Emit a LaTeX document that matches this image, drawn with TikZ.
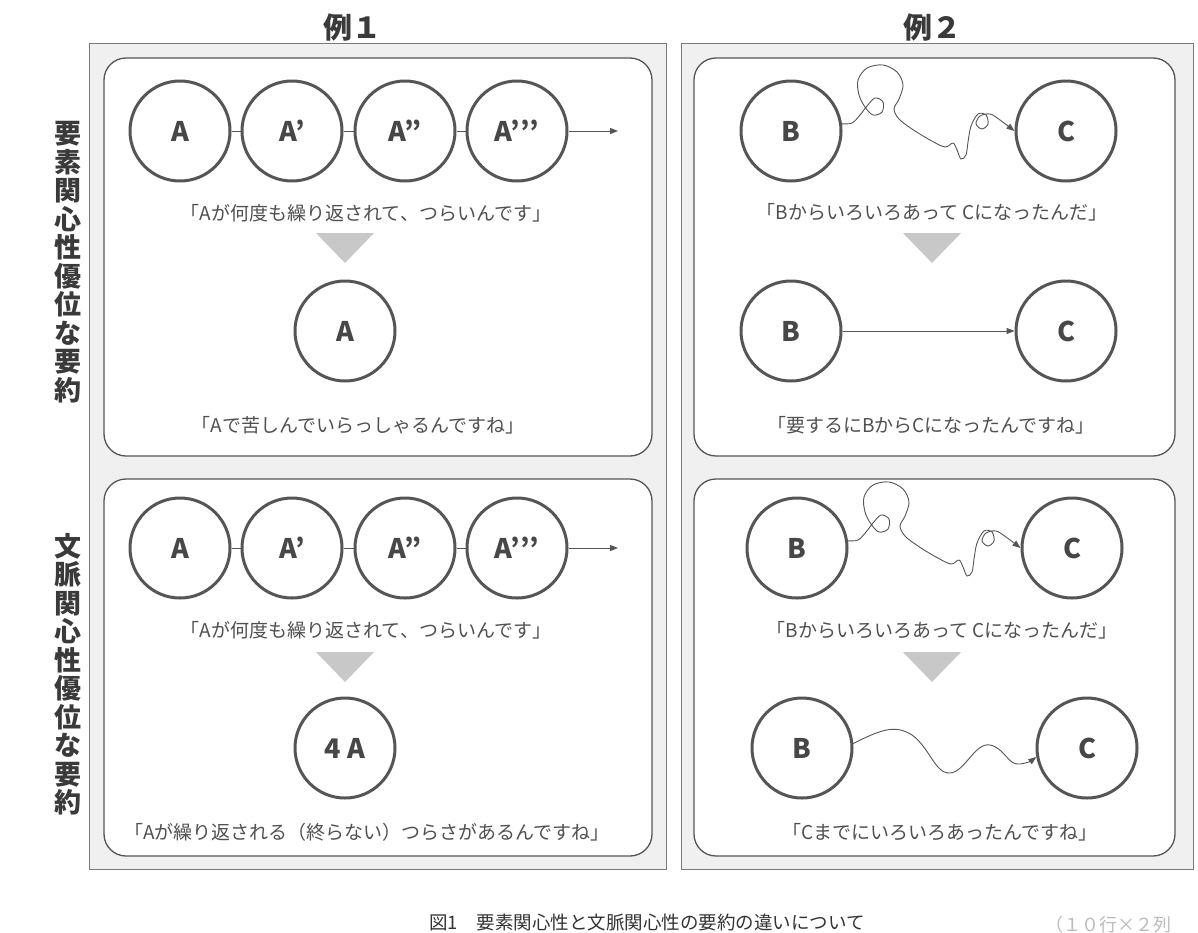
\documentclass[tikz,border=0pt]{standalone}
\usepackage{fontspec}
\setmainfont{Noto Sans CJK JP}
\usetikzlibrary{arrows.meta}
\definecolor{frameg}{HTML}{F0F0F0}
\definecolor{frameline}{HTML}{7A7A7A}
\definecolor{panelline}{HTML}{555555}
\definecolor{circline}{HTML}{555555}
\definecolor{labg}{HTML}{3A3A3A}
\definecolor{circlab}{HTML}{474747}
\definecolor{txtg}{HTML}{505050}
\definecolor{trig}{HTML}{C8C8C8}
\definecolor{linkg}{HTML}{555555}
\definecolor{faintg}{HTML}{BBBBBB}
\begin{document}
\begin{tikzpicture}[x=1pt,y=-1pt,
  outerbox/.style={draw=frameline, line width=0.9pt, fill=frameg},
  panel/.style={draw=panelline, line width=1.3pt, fill=white, rounded corners=22pt},
  circ/.style={circle, draw=circline, line width=3pt, fill=white, minimum size=100pt, inner sep=0pt,
    font=\fontsize{27}{27}\selectfont\bfseries, text=circlab},
  say/.style={font=\fontsize{19}{19}\selectfont, text=txtg, inner sep=0pt},
  sidelab/.style={align=center, font=\fontsize{27}{28.5}\selectfont\bfseries, text=labg, inner sep=0pt},
  titlelab/.style={font=\fontsize{29}{29}\selectfont\bfseries, text=labg, inner sep=0pt},
  tri/.style={fill=trig},
  link/.style={draw=linkg, line width=1pt},
  arr/.style={link, -{Triangle[length=8pt,width=6pt]}},
  wig/.style={draw=linkg, line width=0.9pt, -{Triangle[length=8pt,width=6pt]}}
]
\useasboundingbox (0,0) rectangle (1198,932);
\fill[white] (0,0) rectangle (1198,932);

% titles
\node[titlelab] (title1) at (352,27) {例１};
\node[titlelab] (title2) at (932,27) {例２};

% side labels
\node[sidelab] (side1) at (68,262) {要\\素\\関\\心\\性\\優\\位\\な\\要\\約};
\node[sidelab] (side2) at (68,674) {文\\脈\\関\\心\\性\\優\\位\\な\\要\\約};

% frames
\draw[outerbox] (89,43) rectangle (666,869);
\draw[outerbox] (681,43) rectangle (1193,869);
\draw[panel] (104,58) rectangle (652,456);
\draw[panel] (104,479) rectangle (652,856);
\draw[panel] (694,58) rectangle (1175,456);
\draw[panel] (694,479) rectangle (1175,856);

% ===== Example 1, top =====
\node[circ] (a1) at (180,131) {A};
\node[circ] (a2) at (292,131) {A’};
\node[circ] (a3) at (405,131) {A”};
\node[circ] (a4) at (517,131) {A’’’};
\coordinate (a4end) at (618,131);
\draw[link] (a1) -- (a2);
\draw[link] (a2) -- (a3);
\draw[link] (a3) -- (a4);
\draw[arr] (a4) -- (a4end);
\node[say] (s1) at (366,213) {「Aが何度も繰り返されて、つらいんです」};
\coordinate (t1) at (345,233);
\fill[tri] (t1) ++(-29,0) -- ++(58,0) -- ++(-29,30) -- cycle;
\node[circ] (a5) at (345,331) {A};
\node[say] (s2) at (358,425) {「Aで苦しんでいらっしゃるんですね」};

% ===== Example 1, bottom =====
\node[circ] (b1) at (180,548) {A};
\node[circ] (b2) at (292,548) {A’};
\node[circ] (b3) at (405,548) {A”};
\node[circ] (b4) at (517,548) {A’’’};
\coordinate (b4end) at (618,548);
\draw[link] (b1) -- (b2);
\draw[link] (b2) -- (b3);
\draw[link] (b3) -- (b4);
\draw[arr] (b4) -- (b4end);
\node[say] (s3) at (366,630) {「Aが何度も繰り返されて、つらいんです」};
\coordinate (t2) at (345,652);
\fill[tri] (t2) ++(-29,0) -- ++(58,0) -- ++(-29,30) -- cycle;
\node[circ] (b5) at (345,748) {4 A};
\node[say] (s4) at (367,832) {「Aが繰り返される（終らない）つらさがあるんですね」};

% ===== Example 2, top =====
\node[circ] (B1) at (791,131) {B};
\node[circ] (C1) at (1066,131) {C};
\begin{scope}[shift={(B1.center)}]
\draw[wig] plot[smooth, tension=0.55] coordinates {(B1.8) (61,-8) (69,-16) (76,-25) (84,-33) (92,-29) (91,-19) (82,-16) (74,-24) (68,-36) (67,-51) (76,-63) (92,-66) (106,-59) (112,-46) (108,-32) (103,-22) (108,-12) (121,-2) (139,9) (154,16) (162,12) (166,19) (170,28) (175,24) (177,11) (180,-5) (187,-17) (195,-16) (197,-7) (191,-2) (185,-7) (189,-15) (199,-17) (209,-11) (C1.180)};
\end{scope}
\node[say] (s5) at (932,212) {「Bからいろいろあって Cになったんだ」};
\coordinate (t3) at (932,233);
\fill[tri] (t3) ++(-29,0) -- ++(58,0) -- ++(-29,30) -- cycle;
\node[circ] (B2) at (791,331) {B};
\node[circ] (C2) at (1066,331) {C};
\draw[arr] (B2) -- (C2);
\node[say] (s6) at (931,425) {「要するにBからCになったんですね」};

% ===== Example 2, bottom =====
\node[circ] (B3) at (797,548) {B};
\node[circ] (C3) at (1072,548) {C};
\begin{scope}[shift={(B3.center)}]
\draw[wig] plot[smooth, tension=0.55] coordinates {(B3.8) (61,-8) (69,-16) (76,-25) (84,-33) (92,-29) (91,-19) (82,-16) (74,-24) (68,-36) (67,-51) (76,-63) (92,-66) (106,-59) (112,-46) (108,-32) (103,-22) (108,-12) (121,-2) (139,9) (154,16) (162,12) (166,19) (170,28) (175,24) (177,11) (180,-5) (187,-17) (195,-16) (197,-7) (191,-2) (185,-7) (189,-15) (199,-17) (209,-11) (C3.180)};
\end{scope}
\node[say] (s7) at (942,630) {「Bからいろいろあって Cになったんだ」};
\coordinate (t4) at (932,652);
\fill[tri] (t4) ++(-29,0) -- ++(58,0) -- ++(-29,30) -- cycle;
\node[circ] (B4) at (802,748) {B};
\node[circ] (C4) at (1087,748) {C};
\draw[wig] (B4.5) .. controls (880,730) and (895,724) .. (912,735)
  .. controls (930,748) and (935,774) .. (950,773)
  .. controls (965,772) and (975,742) .. (990,745)
  .. controls (1005,748) and (1008,766) .. (1020,764)
  .. controls (1027,763) and (1031,761) .. (C4.190);
\node[say] (s8) at (940,832) {「Cまでにいろいろあったんですね」};

% caption
\node[say, font=\fontsize{18.5}{18.5}\selectfont, text=black!80] (cap) at (647,922) {図1　要素関心性と文脈関心性の要約の違いについて};
\node[say, anchor=west, font=\fontsize{18}{18}\selectfont, text=faintg] (cap2) at (1045,925) {（１０行×２列};
\end{tikzpicture}
\end{document}
